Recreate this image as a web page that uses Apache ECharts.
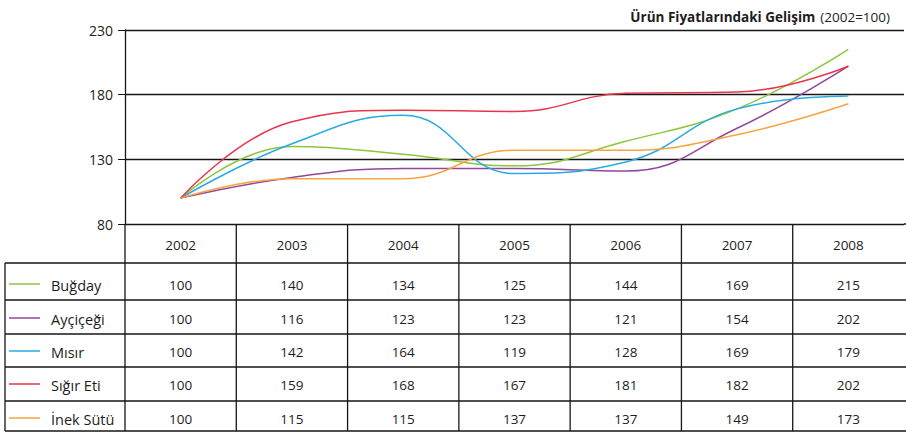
<!DOCTYPE html>
<html><head><meta charset="utf-8">
<script src="https://cdn.jsdelivr.net/npm/echarts@6/dist/echarts.min.js"></script>
<style>html,body{margin:0;padding:0;background:#fff}#c{width:906px;height:438px}</style>
</head><body><div id="c"></div>
<script>
const years = ['2002','2003','2004','2005','2006','2007','2008'];
const bugday   = [100,140,134,125,144,169,215];
const aycicegi = [100,116,123,123,121,154,202];
const misir    = [100,142,164,119,128,169,179];
const sigirEti = [100,159,168,167,181,182,202];
const inekSutu = [100,115,115,137,137,149,173];
const seriesNames = ['Buğday','Ayçiçeği','Mısır','Sığır Eti','İnek Sütü'];
const seriesData = [bugday, aycicegi, misir, sigirEti, inekSutu];
const seriesColors = ['#8cc63f','#93479a','#2aaae2','#e8354b','#f7a540'];
const yMin = 80, yMax = 230, yStep = 50;

const FONT = '"Open Sans", "Noto Sans", sans-serif';
const INK = '#1d1d1b';
const LINE = '#161616';

const chart = echarts.init(document.getElementById('c'), null, {renderer:'svg'});
const gridLeft = 125, gridRight = 2, gridTop = 30, gridBottom = 438-224;

chart.setOption({
  animation:false,
  title:{
    text:'{b|Ürün Fiyatlarındaki Gelişim} {n|(2002=100)}',
    right:11, top:3,
    textStyle:{fontWeight:'normal',rich:{
      b:{fontFamily:FONT,fontSize:13.5,fontWeight:'bold',color:INK},
      n:{fontFamily:FONT,fontSize:13.5,fontWeight:'normal',color:INK}
    }}
  },
  grid:{left:gridLeft,right:gridRight,top:gridTop,bottom:gridBottom},
  xAxis:{type:'category',data:years,boundaryGap:true,
    axisLine:{show:false},axisTick:{show:false},axisLabel:{show:false},splitLine:{show:false}},
  yAxis:{type:'value',min:yMin,max:yMax,interval:yStep,
    axisLine:{show:true,lineStyle:{color:LINE,width:1.3}},
    axisTick:{show:true,length:7,lineStyle:{color:LINE,width:1}},
    axisLabel:{fontFamily:FONT,fontSize:14,color:INK,margin:12},
    splitLine:{show:true,lineStyle:{color:LINE,width:1.3}}},
  series: seriesNames.map((n,i)=>({
    name:n,type:'line',data:seriesData[i],smooth:0.45,symbol:'none',
    lineStyle:{color:seriesColors[i],width:1.5},itemStyle:{color:seriesColors[i]}
  }))
});

// table drawn below the plot, aligned to the category axis
const centers = years.map((y,i)=>chart.convertToPixel({xAxisIndex:0},i));
const plotRight = 906 - gridRight;
const bounds = [gridLeft];
for (let i=0;i<centers.length-1;i++) bounds.push((centers[i]+centers[i+1])/2);
bounds.push(plotRight);
const tableTop = 224, headerBottom = 263;
const rowLines = [263,300,334,367,401,431];
const rowTextY = [285,319,352,385,419];
const headerTextY = 245;
const els = [];
const ln = (x1,y1,x2,y2,w)=>els.push({type:'line',silent:true,shape:{x1,y1,x2,y2},style:{stroke:LINE,lineWidth:w||1.3}});
ln(plotRight,tableTop,906,tableTop);
bounds.slice(0,-1).forEach(x=>ln(x,tableTop,x,rowLines[rowLines.length-1]));
ln(5,headerBottom,5,rowLines[rowLines.length-1]);
rowLines.forEach(y=>ln(5,y,906,y));
years.forEach((yr,i)=>els.push({type:'text',silent:true,style:{text:yr,x:centers[i],y:headerTextY,textAlign:'center',textVerticalAlign:'middle',font:'13.5px '+FONT,fill:INK}}));
seriesNames.forEach((n,r)=>{
  const y = rowTextY[r];
  els.push({type:'line',silent:true,shape:{x1:9,y1:y-1,x2:40,y2:y-1},style:{stroke:seriesColors[r],lineWidth:1.5}});
  els.push({type:'text',silent:true,style:{text:n,x:51,y:y,textAlign:'left',textVerticalAlign:'middle',font:'14.5px '+FONT,fill:INK}});
  seriesData[r].forEach((v,i)=>els.push({type:'text',silent:true,style:{text:String(v),x:centers[i],y:y,textAlign:'center',textVerticalAlign:'middle',font:'13.5px '+FONT,fill:INK}}));
});
chart.setOption({graphic:{elements:els}});
</script></body></html>
